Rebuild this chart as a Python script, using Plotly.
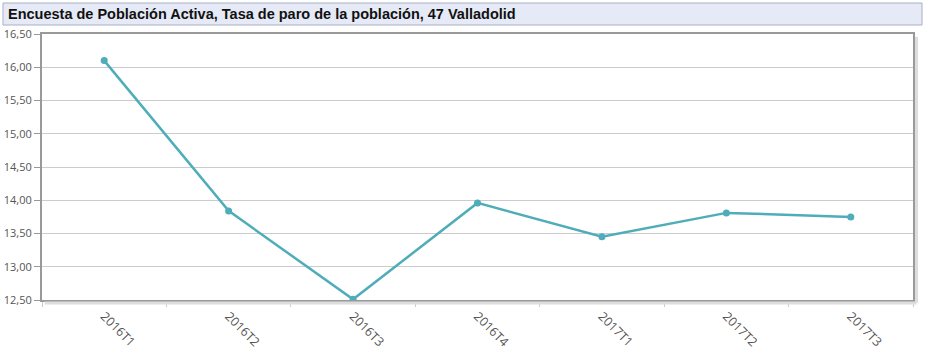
import plotly.graph_objects as go

categories = ["2016T1", "2016T2", "2016T3", "2016T4", "2017T1", "2017T2", "2017T3"]
values = [16.10, 13.84, 12.51, 13.96, 13.45, 13.81, 13.75]
title_text = "Encuesta de Población Activa, Tasa de paro de la población, 47 Valladolid"

W, H = 927, 355
L, R, T, B = 42, 14, 34, 55

fig = go.Figure()
fig.add_trace(go.Scatter(
    x=categories, y=values, mode="lines+markers",
    line=dict(color="#4fadb9", width=2.5),
    marker=dict(color="#4fadb9", size=7),
    cliponaxis=False, hoverinfo="x+y", showlegend=False,
))

yfont = dict(family="Open Sans, sans-serif", size=11, color="#555555")
xfont = dict(family="Open Sans, sans-serif", size=12.5, color="#555555")

fig.update_layout(
    width=W, height=H,
    margin=dict(l=L, r=R, t=T, b=B, autoexpand=False),
    paper_bgcolor="white", plot_bgcolor="white",
    separators=",.",
    title=dict(
        text="<b>" + title_text + "</b>", x=8 / W, xanchor="left",
        y=1 - 14 / H, yanchor="middle", xref="container", yref="container",
        font=dict(family="Arial, Liberation Sans, sans-serif", size=14.5, color="#111111"),
        automargin=False,
    ),
    xaxis=dict(
        type="category", range=[-0.5, 6.5], tickangle=45, automargin=False,
        tickson="boundaries", ticks="outside", ticklen=5, tickcolor="#cccccc",
        ticklabelstandoff=2,
        showgrid=False, showline=True, linecolor="#999999", linewidth=2, mirror=True,
        tickfont=xfont, fixedrange=True,
    ),
    yaxis=dict(
        range=[12.5, 16.5], dtick=0.5, tick0=12.5, tickformat=".2f", automargin=False,
        ticks="outside", ticklen=6, tickcolor="#999999",
        showgrid=True, gridcolor="#cccccc", gridwidth=1,
        showline=True, linecolor="#999999", linewidth=2, mirror=True,
        zeroline=False, tickfont=yfont, fixedrange=True,
    ),
    shapes=[
        dict(type="rect", xref="paper", yref="paper",
             x0=-(L - 3) / (W - L - R), x1=1 + (R - 5) / (W - L - R),
             y0=1 + (T - 25) / (H - T - B), y1=1 + (T - 3) / (H - T - B),
             fillcolor="#e6eaf6", line=dict(color="#a9b0c4", width=1), layer="below"),
        dict(type="line", xref="paper", yref="paper", x0=1.004, x1=1.004, y0=-0.01, y1=0.99,
             line=dict(color="#dddddd", width=3)),
        dict(type="line", xref="paper", yref="paper", x0=0.003, x1=1.004, y0=-0.011, y1=-0.011,
             line=dict(color="#dddddd", width=3)),
    ],
)

fig.write_html("out.html")
